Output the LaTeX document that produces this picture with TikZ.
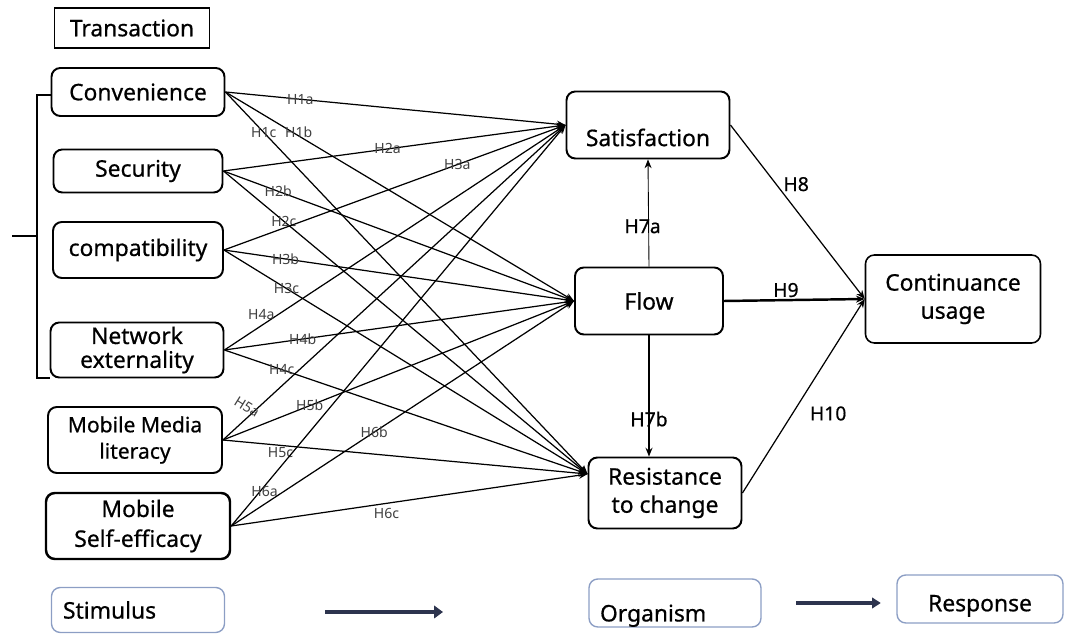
\documentclass[tikz,border=0pt]{standalone}
\usepackage{fontspec}
\setmainfont{Noto Sans}
\newfontfamily\boxfont[FakeBold=0.6]{Noto Sans}
\usepackage{xcolor}
\usetikzlibrary{arrows.meta,positioning,calc}

\definecolor{smrframe}{RGB}{140,158,196}
\definecolor{smrarrow}{RGB}{45,52,78}

\tikzset{
  box/.style={draw, line width=1.1pt, rounded corners=5pt, align=center,
    font=\boxfont\fontsize{13}{16}\selectfont, inner sep=2pt},
  smr/.style={box, draw=smrframe, line width=0.8pt},
  link/.style={-{Stealth[length=5pt,width=4pt]}, line width=0.7pt},
  hyp/.style={font=\fontsize{8}{9}\selectfont, text=black!75, inner sep=0pt},
  hyplg/.style={font=\boxfont\fontsize{11}{12}\selectfont, inner sep=1pt},
}

\begin{document}
\begin{tikzpicture}[x=0.02cm, y=-0.02cm, >=Stealth]
  \useasboundingbox (0,0) rectangle (1066,634);

  % Stimulus side
  \node[draw, line width=0.8pt, minimum width=3.1cm, minimum height=0.8cm,
    font=\boxfont\fontsize{13}{16}\selectfont] (trans) at (132,28) {Transaction};
  \node[box, minimum width=3.46cm, minimum height=0.96cm] (conv) at (138,92) {Convenience};
  \node[box, minimum width=3.38cm, minimum height=0.86cm] (sec) at (138,171) {Security};
  \node[box, minimum width=3.4cm, minimum height=1.12cm] (comp) at (138,250) {compatibility};
  \node[box, minimum width=3.46cm, minimum height=1.1cm, font=\boxfont\fontsize{13}{13.6}\selectfont]
    (net) at (137,350) {Network\\externality};
  \node[box, minimum width=3.48cm, minimum height=1.32cm, font=\boxfont\fontsize{12}{15}\selectfont]
    (mml) at (135,440) {Mobile Media\\literacy};
  \node[box, minimum width=3.68cm, minimum height=1.32cm, line width=1.4pt,
    font=\boxfont\fontsize{13}{17}\selectfont] (mse) at (138,526) {Mobile\\Self-efficacy};

  % Bracket round the transaction group
  \draw[line width=1.1pt] (conv.west |- 0,95) -- (37,95) -- (37,378) -- (net.west |- 0,378);
  \draw[line width=1.1pt] (12,236) -- (37,236);

  % Organism and response
  \node[box, minimum width=3.26cm, minimum height=1.34cm, text height=27pt, text depth=3pt]
    (sat) at (648,125) {Satisfaction};
  \node[box, minimum width=2.96cm, minimum height=1.34cm] (flow) at (649,301) {Flow};
  \node[box, minimum width=3.06cm, minimum height=1.42cm, font=\boxfont\fontsize{13}{16}\selectfont,
    yshift=0pt] (res) at (665,493) {Resistance\\to change};
  \node[box, minimum width=3.5cm, minimum height=1.76cm, line width=0.9pt,
    font=\boxfont\fontsize{13}{16}\selectfont] (cont) at (953,299) {Continuance\\usage};
  \coordinate (resin) at ($(res.north west)!0.24!(res.south west)$);

  % S-O-R legend
  \node[smr, minimum width=3.46cm, minimum height=0.9cm, text width=3.0cm, align=left]
    (stim) at (138,610) {Stimulus};
  \node[smr, minimum width=3.44cm, minimum height=0.96cm, text width=3.0cm, align=left,
    inner ysep=0pt, text height=24pt, text depth=3pt] (org) at (675,603) {Organism};
  \node[smr, minimum width=3.32cm, minimum height=0.96cm, text height=15pt, text depth=1pt]
    (resp) at (980,599) {Response};
  \coordinate (stimA) at (325,612);
  \coordinate (stimB) at (443,612);
  \draw[-{Triangle[length=5pt,width=7pt]}, smrarrow, line width=2.8pt] (stimA) -- (stimB);
  \draw[-{Triangle[length=5pt,width=6pt]}, smrarrow, line width=2.2pt,
    shorten <=9\pgflinewidth, shorten >=4\pgflinewidth] (org.east) -- (org.east -| resp.west);

  % H1 - H6
  \draw[link] (conv.east) -- node[hyp, pos=0.22] {H1a} (sat.west);
  \draw[link] (conv.east) -- node[hyp, pos=0.21, yshift=0.08cm] {H1b} (flow.west);
  \draw[link] (conv.east) -- node[hyp, pos=0.106] {H1c} (resin);

  \draw[link] (sec.east) -- node[hyp, pos=0.48] {H2a} (sat.west);
  \draw[link] (sec.east) -- node[hyp, pos=0.156] {H2b} (flow.west);
  \draw[link] (sec.east) -- node[hyp, pos=0.166] {H2c} (resin);

  \draw[link] (comp.east) -- node[hyp, pos=0.683] {H3a} (sat.west);
  \draw[link] (comp.east) -- node[hyp, pos=0.176] {H3b} (flow.west);
  \draw[link] (comp.east) -- node[hyp, pos=0.172] {H3c} (resin);

  \draw[link] (net.east) -- node[hyp, pos=0.108, yshift=0.22cm] {H4a} (sat.west);
  \draw[link] (net.east) -- node[hyp, pos=0.224] {H4b} (flow.west);
  \draw[link] (net.east) -- node[hyp, pos=0.158] {H4c} (resin);

  \draw[link] (mml.east) -- node[hyp, pos=0.07, yshift=0.22cm, rotate=-32] {H5a} (sat.west);
  \draw[link] (mml.east) -- node[hyp, pos=0.247] {H5b} (flow.west);
  \draw[link] (mml.east) -- node[hyp, pos=0.158, yshift=-0.14cm] {H5c} (resin);

  \draw[link] (mse.east) -- node[hyp, pos=0.1, yshift=-0.12cm] {H6a} (sat.west);
  \draw[link] (mse.east) -- node[hyp, pos=0.417] {H6b} (flow.west);
  \draw[link] (mse.east) -- node[hyp, pos=0.436, yshift=-0.2cm] {H6c} (resin);

  % H7 - H10
  \draw[link, line width=0.5pt] (flow.north) -- node[hyplg, pos=0.376, xshift=-0.12cm] {H7a} (sat.south);
  \draw[link, line width=1pt] (flow.south) -- node[hyplg, pos=0.69] {H7b} (flow.south |- res.north);
  \draw[link] (sat.east) -- node[hyplg, pos=0.34, right=0.1cm] {H8} (cont.west);
  \draw[link, line width=1.4pt] (flow.east) -- node[hyplg, pos=0.44, above] {H9} (cont.west);
  \draw[link] (res.east) -- node[hyplg, pos=0.41, right=0.3cm] {H10} (cont.west);
\end{tikzpicture}
\end{document}
